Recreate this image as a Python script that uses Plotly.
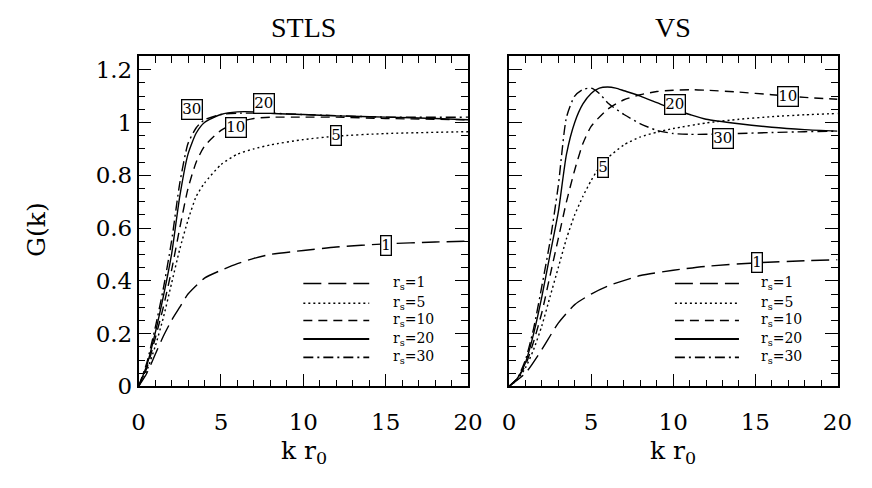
import plotly.graph_objects as go

# ---------------- data: local-field factor G(k) vs k r0 ----------------
rs_values = [1, 5, 10, 20, 30]

# STLS
stls_k = {
    1:  [0, 0.5, 1, 1.5, 2, 2.5, 3, 4, 5, 6, 7, 8, 10, 12, 15, 18, 20],
    5:  [0, 0.5, 1, 1.5, 2, 2.5, 3, 3.5, 4, 5, 6, 7, 8, 10, 12, 15, 20],
    10: [0, 0.5, 1, 1.5, 2, 2.5, 3, 3.5, 4, 5, 6, 7, 8, 10, 12, 15, 20],
    20: [0, 0.5, 1, 1.5, 2, 2.5, 3, 3.5, 4, 5, 6, 7, 8, 10, 12, 15, 18, 20],
    30: [0, 0.5, 1, 1.5, 2, 2.5, 3, 3.5, 4, 5, 6, 8, 10, 15, 20],
}
stls_g = {
    1:  [0, 0.05, 0.12, 0.19, 0.25, 0.30, 0.35, 0.41, 0.44, 0.465, 0.485, 0.50, 0.515, 0.528, 0.54, 0.547, 0.55],
    5:  [0, 0.06, 0.15, 0.26, 0.39, 0.52, 0.63, 0.72, 0.77, 0.84, 0.88, 0.90, 0.915, 0.935, 0.948, 0.958, 0.965],
    10: [0, 0.07, 0.18, 0.30, 0.44, 0.60, 0.75, 0.85, 0.91, 0.97, 1.00, 1.015, 1.02, 1.02, 1.02, 1.015, 1.01],
    20: [0, 0.08, 0.20, 0.34, 0.50, 0.72, 0.88, 0.96, 1.00, 1.03, 1.04, 1.04, 1.035, 1.03, 1.025, 1.02, 1.015, 1.01],
    30: [0, 0.09, 0.22, 0.37, 0.55, 0.77, 0.92, 0.98, 1.01, 1.03, 1.035, 1.035, 1.03, 1.02, 1.02],
}

# VS
vs_k = {
    1:  [0, 1, 2, 3, 4, 5, 6, 8, 10, 12, 15, 18, 20],
    5:  [0, 0.5, 1, 1.5, 2, 2.5, 3, 3.5, 4, 4.5, 5, 5.5, 6, 7, 8, 9, 10, 12, 14, 16, 18, 20],
    10: [0, 0.5, 1, 1.5, 2, 2.5, 3, 3.5, 4, 4.5, 5, 6, 7, 8, 9, 10, 11, 12, 14, 16, 18, 20],
    20: [0, 0.5, 1, 1.5, 2, 2.5, 3, 3.5, 4, 4.5, 5, 5.5, 6, 6.5, 7, 8, 9, 10, 11, 12, 14, 16, 18, 20],
    30: [0, 0.5, 1, 1.5, 2, 2.5, 3, 3.5, 4, 4.5, 5, 5.5, 6, 7, 8, 9, 10, 11, 12, 14, 16, 18, 20],
}
vs_g = {
    1:  [0, 0.05, 0.14, 0.24, 0.31, 0.35, 0.38, 0.42, 0.44, 0.455, 0.468, 0.476, 0.48],
    5:  [0, 0.025, 0.07, 0.14, 0.23, 0.34, 0.45, 0.56, 0.65, 0.72, 0.78, 0.83, 0.865, 0.915, 0.945, 0.963, 0.977, 0.998, 1.012, 1.022, 1.029, 1.034],
    10: [0, 0.03, 0.08, 0.17, 0.28, 0.42, 0.56, 0.70, 0.82, 0.92, 0.985, 1.05, 1.086, 1.105, 1.117, 1.122, 1.124, 1.122, 1.115, 1.105, 1.095, 1.088],
    20: [0, 0.03, 0.09, 0.20, 0.34, 0.50, 0.66, 0.88, 1.00, 1.07, 1.11, 1.13, 1.134, 1.13, 1.12, 1.10, 1.075, 1.05, 1.03, 1.012, 0.995, 0.982, 0.973, 0.967],
    30: [0, 0.03, 0.10, 0.22, 0.38, 0.55, 0.76, 1.02, 1.10, 1.125, 1.13, 1.11, 1.075, 1.03, 0.995, 0.97, 0.958, 0.955, 0.955, 0.958, 0.962, 0.965, 0.967],
}

# in-plot curve labels: (k, G) where each boxed rs tag sits
stls_tags = {1: (15.0, 0.535), 5: (12.0, 0.95), 10: (5.9, 0.98), 20: (7.6, 1.07), 30: (3.25, 1.05)}
vs_tags = {1: (15.1, 0.47), 5: (5.75, 0.83), 10: (17.0, 1.097), 20: (10.1, 1.067), 30: (13.05, 0.94)}

# ---------------- styles ----------------
dashes = {1: "18px,7px", 5: "2px,3px", 10: "9px,6px", 20: "solid", 30: "10px,4px,2px,4px"}
LINE_W = 1.4
SERIF = "DejaVu Serif"
TITLE_FONT = "Liberation Serif"

# axis ids: each panel has bottom/left axes plus top/right twins carrying mirrored ticks
PANEL_AXES = [
    dict(bx="x", by="y", tx="x2", ty="y2"),
    dict(bx="x3", by="y3", tx="x4", ty="y4"),
]

fig = go.Figure()

for ax, kd, gd, tags in zip(PANEL_AXES, [stls_k, vs_k], [stls_g, vs_g], [stls_tags, vs_tags]):
    xa, ya = ax["bx"], ax["by"]
    for rs in rs_values:
        fig.add_trace(go.Scatter(
            x=kd[rs], y=gd[rs], mode="lines", xaxis=xa, yaxis=ya,
            line=dict(color="black", width=LINE_W, dash=dashes[rs], shape="spline", smoothing=0.6),
            showlegend=False, hoverinfo="skip",
        ))
    # empty traces so the top / right twin axes get drawn
    fig.add_trace(go.Scatter(x=[None], y=[None], xaxis=ax["tx"], yaxis=ya,
                             showlegend=False, hoverinfo="skip"))
    fig.add_trace(go.Scatter(x=[None], y=[None], xaxis=xa, yaxis=ax["ty"],
                             showlegend=False, hoverinfo="skip"))
    for rs in rs_values:
        kx, gy = tags[rs]
        fig.add_annotation(
            x=kx, y=gy, xref=xa, yref=ya, text=str(rs), showarrow=False,
            font=dict(family=SERIF, size=15, color="black"),
            bgcolor="white", bordercolor="black", borderwidth=1.3, borderpad=0,
        )

# hand-drawn key in the lower right of each panel
key_rows = [0.39, 0.315, 0.25, 0.18, 0.11]
key_spans = [(10.0, 14.0, 15.3), (10.1, 14.0, 15.2)]
for ax, (x0, x1, xt) in zip(PANEL_AXES, key_spans):
    xa, ya = ax["bx"], ax["by"]
    for rs, gy in zip(rs_values, key_rows):
        fig.add_shape(
            type="line", xref=xa, yref=ya, x0=x0, x1=x1, y0=gy, y1=gy,
            line=dict(color="black", width=2 if rs == 20 else 1.6, dash=dashes[rs]),
        )
        fig.add_annotation(
            x=xt, y=gy, xref=xa, yref=ya, text="r<sub>s</sub>=" + str(rs),
            showarrow=False, xanchor="left", yanchor="middle",
            font=dict(family=SERIF, size=14, color="black"),
        )

# panel titles and axis titles
for cx, title in [(0.349, "STLS"), (0.783, "VS")]:
    fig.add_annotation(x=cx, y=1 - 28 / 488, xref="paper", yref="paper", text=title,
                       xanchor="center", yanchor="middle",
                       showarrow=False, font=dict(family=TITLE_FONT, size=28, color="black"))
    fig.add_annotation(x=cx, y=1 - 464 / 488, xref="paper", yref="paper", text="k r<sub>0</sub>",
                       xanchor="center", yanchor="middle",
                       showarrow=False, font=dict(family=SERIF, size=25, color="black"))
fig.add_annotation(x=30 / 872, y=1 - 236 / 488, xref="paper", yref="paper", text="G(k)",
                   xanchor="center", yanchor="middle",
                   textangle=-90, showarrow=False, font=dict(family=SERIF, size=25, color="black"))

# ---------------- axes: framed boxes with inside ticks on all four sides ----------------
X_RANGE = [0, 20]
Y_RANGE = [0, 1.25]
X_DOMAINS = [[135 / 872, 473 / 872], [515 / 872, 852 / 872]]
Y_DOMAIN = [1 - 397 / 488, 1 - 58 / 488]

tick_style = dict(
    linecolor="black", linewidth=1.5,
    ticks="inside", ticklen=13, tickwidth=1.3, tickcolor="black",
    showgrid=False, zeroline=False,
    tickfont=dict(family=SERIF, size=23, color="black"),
)
x_minor = dict(tickmode="linear", tick0=0, dtick=1, ticks="inside", ticklen=7,
               tickwidth=1.1, tickcolor="black", showgrid=False)
y_minor = dict(tickmode="linear", tick0=0, dtick=0.05, ticks="inside", ticklen=7,
               tickwidth=1.1, tickcolor="black", showgrid=False)
x_axis = dict(tick_style, range=X_RANGE, tickmode="linear", tick0=0, dtick=5, minor=x_minor)
y_axis = dict(tick_style, range=Y_RANGE, tickmode="linear", tick0=0, dtick=0.2, minor=y_minor)


def key(axid):
    letter, num = axid[0], axid[1:]
    return f"{letter}axis{num}"


layout_axes = {}
for i, (ax, xdom) in enumerate(zip(PANEL_AXES, X_DOMAINS)):
    layout_axes[key(ax["bx"])] = dict(x_axis, domain=xdom, anchor=ax["by"], showline=True,
                                      mirror=True, ticklabelstandoff=14)
    layout_axes[key(ax["by"])] = dict(y_axis, domain=Y_DOMAIN, anchor=ax["bx"], showline=True,
                                      mirror=True, showticklabels=(i == 0))
    layout_axes[key(ax["tx"])] = dict(x_axis, domain=xdom, anchor=ax["by"], overlaying=ax["bx"],
                                      side="top", showline=True, showticklabels=False)
    layout_axes[key(ax["ty"])] = dict(y_axis, domain=Y_DOMAIN, anchor=ax["bx"], overlaying=ax["by"],
                                      side="right", showline=True, showticklabels=False)

fig.update_layout(
    width=872, height=488,
    margin=dict(l=0, r=0, t=0, b=0),
    paper_bgcolor="white", plot_bgcolor="white",
    showlegend=False,
    **layout_axes,
)

fig.write_html("out.html")
